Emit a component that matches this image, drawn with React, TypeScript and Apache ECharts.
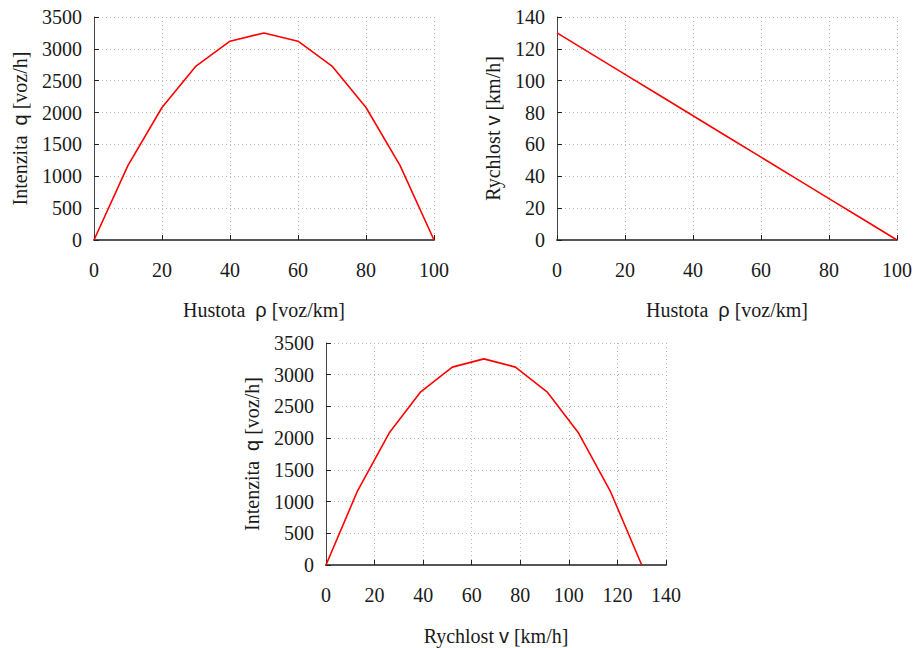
import React, { useEffect, useRef } from "react";
import * as echarts from "echarts";

const density = [0, 10, 20, 30, 40, 50, 60, 70, 80, 90, 100];
const flow = [0, 1170, 2080, 2730, 3120, 3250, 3120, 2730, 2080, 1170, 0];
const speedByDensity = [130, 117, 104, 91, 78, 65, 52, 39, 26, 13, 0];
const speed = [0, 13, 26, 39, 52, 65, 78, 91, 104, 117, 130];
const flowBySpeed = [0, 1170, 2080, 2730, 3120, 3250, 3120, 2730, 2080, 1170, 0];

const SERIF = "Liberation Serif";
const SANS = "Liberation Sans";
const TXT = "#1a1a1a";

const rich = {
  t: { fontFamily: SERIF, fontSize: 20, color: TXT },
  s: { fontFamily: SANS, fontSize: 20, color: TXT },
};

const plain = (v: number) => String(v);

function xAxis(gridIndex: number, max: number, name: string, gap: number) {
  return {
    type: "value",
    gridIndex,
    min: 0,
    max,
    interval: 20,
    name,
    nameLocation: "middle",
    nameGap: gap,
    nameTextStyle: { fontFamily: SERIF, fontSize: 20, color: TXT, rich },
    axisLine: { show: true, onZero: false, lineStyle: { color: "#555", width: 2 } },
    axisTick: { show: true, inside: true, length: 5, lineStyle: { color: "#222", width: 1 } },
    axisLabel: { margin: 20, fontFamily: SERIF, fontSize: 20, color: TXT, formatter: plain },
    splitLine: { show: true, lineStyle: { color: "#b8b8b8", type: [1, 3], width: 1 } },
  };
}

function yAxis(gridIndex: number, max: number, interval: number, name: string, gap: number) {
  return {
    type: "value",
    gridIndex,
    min: 0,
    max,
    interval,
    name,
    nameLocation: "middle",
    nameGap: gap,
    nameRotate: 90,
    nameTextStyle: { fontFamily: SERIF, fontSize: 20, color: TXT, rich },
    axisLine: { show: true, onZero: false, lineStyle: { color: "#444", width: 1 } },
    axisTick: { show: true, inside: true, length: 5, lineStyle: { color: "#222", width: 1 } },
    axisLabel: { margin: 12, fontFamily: SERIF, fontSize: 20, color: TXT, formatter: plain },
    splitLine: { show: true, lineStyle: { color: "#b8b8b8", type: [1, 3], width: 1 } },
  };
}

function lineSeries(idx: number, xs: number[], ys: number[]) {
  return {
    type: "line",
    xAxisIndex: idx,
    yAxisIndex: idx,
    data: xs.map((x, i) => [x, ys[i]]),
    showSymbol: false,
    symbol: "none",
    lineStyle: { color: "#ff0000", width: 1.6 },
    itemStyle: { color: "#ff0000" },
    clip: false,
  };
}

export default function App() {
  const ref = useRef<HTMLDivElement>(null);
  useEffect(() => {
    if (!ref.current) return;
    const chart = echarts.init(ref.current, undefined, { renderer: "svg" });
    chart.setOption({
      animation: false,
      backgroundColor: "#ffffff",
      textStyle: { fontFamily: SERIF },
      grid: [
        { left: 94, top: 17, width: 340, height: 223 },
        { left: 557, top: 17, width: 341, height: 223 },
        { left: 326, top: 343, width: 340, height: 222 },
      ],
      xAxis: [
        xAxis(0, 100, "{t|Hustota  }{s|ρ}{t| [voz/km]}", 60),
        xAxis(1, 100, "{t|Hustota  }{s|ρ}{t| [voz/km]}", 60),
        xAxis(2, 140, "{t|Rychlost }{s|v}{t| [km/h]}", 61),
      ],
      yAxis: [
        yAxis(0, 3500, 500, "{t|Intenzita  }{s|q}{t| [voz/h]}", 64),
        yAxis(1, 140, 20, "{t|Rychlost }{s|v}{t| [km/h]}", 54),
        yAxis(2, 3500, 500, "{t|Intenzita  }{s|q}{t| [voz/h]}", 64),
      ],
      series: [
        lineSeries(0, density, flow),
        lineSeries(1, density, speedByDensity),
        lineSeries(2, speed, flowBySpeed),
      ],
    });
    return () => chart.dispose();
  }, []);
  return (
    <div
      ref={ref}
      style={{ position: "fixed", left: 0, top: 0, width: 915, height: 648, background: "#fff" }}
    />
  );
}
